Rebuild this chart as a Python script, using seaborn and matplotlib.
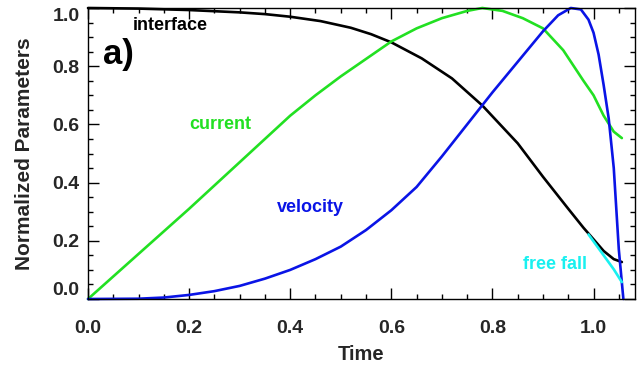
import numpy as np
import pandas as pd
import seaborn as sns
import matplotlib
matplotlib.use("Agg")
import matplotlib.pyplot as plt
from matplotlib.ticker import MultipleLocator, FormatStrFormatter

# ---- data ----
t_current = [0, 0.1, 0.2, 0.3, 0.4, 0.45, 0.5, 0.55, 0.6, 0.65, 0.7, 0.75, 0.78,
             0.82, 0.86, 0.9, 0.94, 0.98, 1.0, 1.02, 1.04, 1.056]
v_current = [0, 0.155, 0.31, 0.47, 0.63, 0.70, 0.765, 0.825, 0.885, 0.93, 0.965,
             0.99, 1.0, 0.99, 0.965, 0.93, 0.855, 0.75, 0.70, 0.63, 0.575, 0.553]

t_interface = [0, 0.1, 0.2, 0.3, 0.35, 0.4, 0.46, 0.52, 0.56, 0.6, 0.66, 0.72,
               0.78, 0.85, 0.9, 0.95, 0.98, 1.0, 1.02, 1.04, 1.056]
v_interface = [1.0, 0.998, 0.993, 0.985, 0.979, 0.970, 0.955, 0.932, 0.910, 0.882,
               0.827, 0.758, 0.665, 0.535, 0.420, 0.310, 0.245, 0.205, 0.165, 0.137,
               0.127]

t_velocity = [0, 0.1, 0.15, 0.2, 0.25, 0.3, 0.35, 0.4, 0.45, 0.5, 0.55, 0.6, 0.65,
              0.7, 0.75, 0.8, 0.85, 0.9, 0.93, 0.955, 0.975, 0.99, 1.0, 1.01, 1.02,
              1.03, 1.04, 1.05, 1.059]
v_velocity = [0, 0.001, 0.005, 0.014, 0.027, 0.045, 0.07, 0.10, 0.137, 0.18, 0.237,
              0.305, 0.385, 0.49, 0.6, 0.71, 0.815, 0.92, 0.975, 1.0, 0.995, 0.96,
              0.915, 0.84, 0.735, 0.62, 0.45, 0.17, 0.0]

t_freefall = [0.99, 1.0, 1.02, 1.04, 1.056]
v_freefall = [0.222, 0.198, 0.150, 0.102, 0.058]

labels = ["interface", "current", "velocity", "free fall"]
colors = ["#000000", "#22e022", "#0a14e6", "#19f0f0"]

# ---- plotting ----
sns.set_style("white")
plt.rcParams["font.family"] = ["Liberation Sans", "DejaVu Sans"]
plt.rcParams["font.weight"] = "bold"

fig = plt.figure(figsize=(6.44, 3.69), dpi=100)
ax = fig.add_axes([88 / 644, 70 / 369, 547 / 644, 291 / 369])

series = [(t_interface, v_interface, colors[0]),
          (t_current, v_current, colors[1]),
          (t_velocity, v_velocity, colors[2]),
          (t_freefall, v_freefall, colors[3])]
for t, v, c in series:
    sns.lineplot(x=t, y=v, color=c, linewidth=1.9, ax=ax, sort=False,
                 estimator=None, clip_on=False)

ax.set_xlim(0, 1.082)
ax.set_ylim(0, 1.0)
ax.xaxis.set_major_locator(MultipleLocator(0.2))
ax.xaxis.set_minor_locator(MultipleLocator(0.05))
ax.yaxis.set_major_locator(MultipleLocator(0.2))
ax.yaxis.set_minor_locator(MultipleLocator(0.05))
ax.xaxis.set_major_formatter(FormatStrFormatter("%.1f"))
ax.yaxis.set_major_formatter(FormatStrFormatter("%.1f"))

ax.tick_params(which="both", direction="in", top=True, right=True,
               left=True, bottom=True, color="black", width=1.0)
ax.tick_params(which="major", length=8)
ax.tick_params(which="minor", length=3.8)
ax.tick_params(axis="x", which="major", pad=15, labelsize=14)
ax.tick_params(axis="y", which="major", pad=6, labelsize=14)
for s in ax.spines.values():
    s.set_color("black")
    s.set_linewidth(1.0)

fig.canvas.draw()
for lab in ax.get_xticklabels() + ax.get_yticklabels():
    lab.set_fontweight("bold")
# IDL-style: first and last y labels kept inside the axis range
for lab in ax.get_yticklabels():
    txt = lab.get_text()
    if txt == "0.0":
        lab.set_verticalalignment("bottom")
    elif txt == "1.0":
        lab.set_verticalalignment("top")

ax.set_xlabel("Time", fontsize=14.5, fontweight="bold", labelpad=6)
ax.set_ylabel("Normalized Parameters", fontsize=15, fontweight="bold", labelpad=13)

ax.text(0.162, 0.94, "interface", color=colors[0], fontsize=13,
        fontweight="bold", ha="center", va="center")
ax.text(0.261, 0.598, "current", color=colors[1], fontsize=13,
        fontweight="bold", ha="center", va="center")
ax.text(0.439, 0.316, "velocity", color=colors[2], fontsize=13,
        fontweight="bold", ha="center", va="center")
ax.text(0.924, 0.12, "free fall", color=colors[3], fontsize=13,
        fontweight="bold", ha="center", va="center")
ax.text(0.06, 0.84, "a)", color="black", fontsize=25,
        fontweight="bold", ha="center", va="center")

fig.savefig("out.png", dpi=100)
